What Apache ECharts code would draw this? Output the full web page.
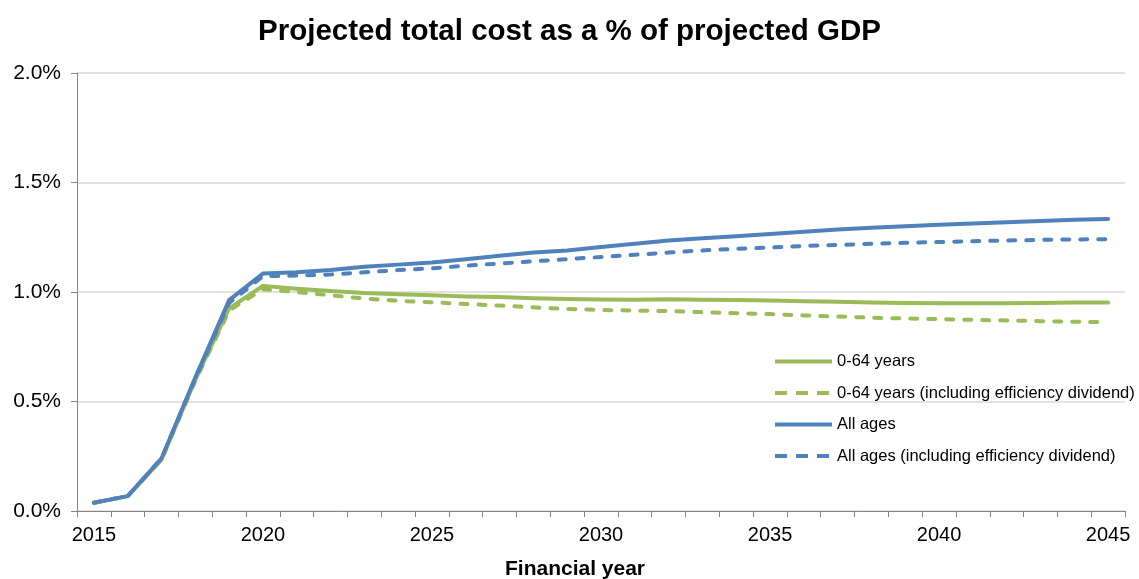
<!DOCTYPE html>
<html>
<head>
<meta charset="utf-8">
<script src="https://cdn.jsdelivr.net/npm/echarts@6/dist/echarts.min.js"></script>
<style>
  html, body { margin: 0; padding: 0; background: #fff; }
  #chart { width: 1139px; height: 579px; }
</style>
</head>
<body>
<div id="chart"></div>
<script>
// Financial years 2015 to 2045
const years = [];
for (let y = 2015; y <= 2045; y++) years.push(String(y));

// Projected total cost, % of projected GDP
const age0to64 = [0.038, 0.068, 0.235, 0.600, 0.925, 1.028, 1.015, 1.005, 0.995, 0.990,
  0.985, 0.980, 0.977, 0.972, 0.968, 0.966, 0.965, 0.967, 0.965, 0.963,
  0.961, 0.958, 0.955, 0.952, 0.950, 0.949, 0.949, 0.949, 0.950, 0.952, 0.952];
const age0to64Eff = [0.038, 0.068, 0.235, 0.595, 0.915, 1.013, 1.000, 0.985, 0.970, 0.960,
  0.953, 0.945, 0.938, 0.930, 0.922, 0.918, 0.915, 0.913, 0.908, 0.903,
  0.899, 0.893, 0.888, 0.883, 0.879, 0.876, 0.873, 0.870, 0.867, 0.864, 0.862];
const allAges = [0.038, 0.068, 0.240, 0.610, 0.963, 1.084, 1.090, 1.100, 1.115, 1.125,
  1.135, 1.150, 1.165, 1.180, 1.190, 1.205, 1.220, 1.235, 1.245, 1.255,
  1.265, 1.275, 1.285, 1.293, 1.300, 1.307, 1.313, 1.318, 1.324, 1.330, 1.333];
const allAgesEff = [0.038, 0.068, 0.240, 0.605, 0.950, 1.072, 1.075, 1.080, 1.090, 1.100,
  1.108, 1.120, 1.130, 1.140, 1.150, 1.160, 1.170, 1.180, 1.190, 1.197,
  1.203, 1.210, 1.215, 1.220, 1.225, 1.228, 1.232, 1.235, 1.238, 1.240, 1.241];

const seriesNames = [
  '0-64 years',
  '0-64 years (including efficiency dividend)',
  'All ages',
  'All ages (including efficiency dividend)'
];

const GREEN = '#9BBB59';
const BLUE = '#4F81BD';
const FONT = '"Liberation Sans", Arial, sans-serif';

function lineSeries(name, data, color, dashed) {
  return {
    name: name,
    type: 'line',
    data: data,
    symbol: 'none',
    smooth: false,
    z: dashed ? 3 : 2,
    lineStyle: {
      color: color,
      width: 4,
      type: dashed ? [7, 11] : 'solid',
      cap: 'round',
      join: 'round'
    },
    itemStyle: { color: color }
  };
}

// legend keys: plain line samples, no marker
const legendData = seriesNames.map(function (n, i) {
  const dashed = i % 2 === 1;
  return {
    name: n,
    lineStyle: {
      color: i < 2 ? GREEN : BLUE,
      width: 4,
      type: dashed ? [12, 9] : 'solid',
      cap: 'butt'
    }
  };
});

const chart = echarts.init(document.getElementById('chart'));
chart.setOption({
  animation: false,
  backgroundColor: '#ffffff',
  title: {
    text: 'Projected total cost as a % of projected GDP',
    left: 'center',
    top: 12,
    textStyle: { fontFamily: FONT, fontSize: 29.5, fontWeight: 'bold', color: '#000' }
  },
  grid: { left: 77, right: 14, top: 73, bottom: 68, outerBoundsMode: 'none', containLabel: false },
  legend: {
    orient: 'vertical',
    left: 768,
    top: 348,
    itemWidth: 57,
    itemHeight: 16,
    itemGap: 14.5,
    itemStyle: { color: 'rgba(0,0,0,0)', borderColor: 'rgba(0,0,0,0)', borderWidth: 0, opacity: 0 },
    lineStyle: { width: 4 },
    textStyle: { fontFamily: FONT, fontSize: 16.5, color: '#000' },
    data: legendData
  },
  xAxis: {
    type: 'category',
    data: years,
    boundaryGap: true,
    name: 'Financial year',
    nameLocation: 'middle',
    nameGap: 48,
    nameTextStyle: {
      fontFamily: FONT, fontSize: 21, fontWeight: 'bold', color: '#000',
      padding: [0, 52, 0, 0]
    },
    axisLine: { lineStyle: { color: '#868686', width: 1 } },
    axisTick: { show: true, interval: 0, length: 6, alignWithLabel: false, lineStyle: { color: '#868686' } },
    axisLabel: { interval: 4, fontFamily: FONT, fontSize: 20, color: '#000', margin: 14 },
    splitLine: { show: false }
  },
  yAxis: {
    type: 'value',
    min: 0,
    max: 2,
    interval: 0.5,
    axisLine: { show: true, lineStyle: { color: '#868686', width: 1 } },
    axisTick: { show: true, length: 6, inside: false, lineStyle: { color: '#868686' } },
    axisLabel: {
      fontFamily: FONT, fontSize: 21, color: '#000', margin: 16,
      formatter: function (v) { return v.toFixed(1) + '%'; }
    },
    splitLine: { show: true, lineStyle: { color: '#d9d9d9', width: 1.5 } }
  },
  series: [
    lineSeries(seriesNames[0], age0to64, GREEN, false),
    lineSeries(seriesNames[1], age0to64Eff, GREEN, true),
    lineSeries(seriesNames[2], allAges, BLUE, false),
    lineSeries(seriesNames[3], allAgesEff, BLUE, true)
  ]
});
</script>
</body>
</html>
